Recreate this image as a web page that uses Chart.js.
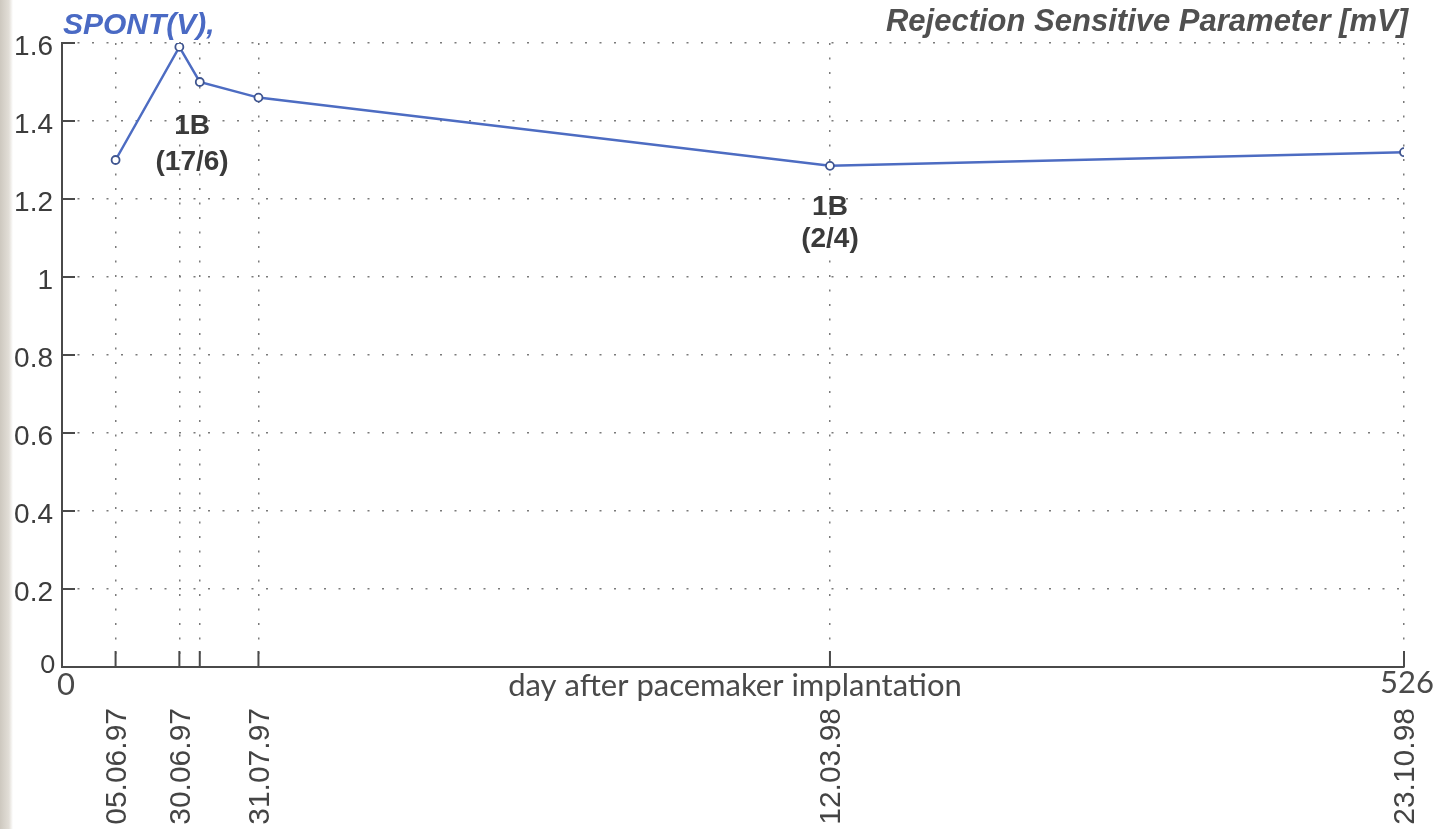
<!DOCTYPE html>
<html lang="en">
<head>
    <meta charset="UTF-8">
    <title>Rejection Sensitive Parameter</title>
    <script src="https://cdn.jsdelivr.net/npm/chart.js"></script>
    <style>
        html, body { margin: 0; padding: 0; }
        body {
            width: 1454px; height: 829px; overflow: hidden;
            background: linear-gradient(to right, #cdc8bf 0px, #e2ded7 9px, #ffffff 13px);
        }
        #wrap { position: relative; width: 1454px; height: 829px; }
    </style>
</head>
<body>
    <div id="wrap">
        <canvas id="myChart" width="1454" height="829"></canvas>
    </div>
<script>
// days after pacemaker implantation (15.05.97)
const days = [21, 46, 54, 77, 301, 526];
const spont = [1.30, 1.59, 1.50, 1.46, 1.285, 1.32];
const dateLabels = ['05.06.97', '30.06.97', '', '31.07.97', '12.03.98', '23.10.98'];
const yTicks = [0, 0.2, 0.4, 0.6, 0.8, 1, 1.2, 1.4, 1.6];
const notes = [
    { x: 51, y: 1.387, text: '1B' },
    { x: 51, y: 1.295, text: '(17/6)' },
    { x: 301, y: 1.18, text: '1B' },
    { x: 301, y: 1.097, text: '(2/4)' }
];

const dotted = [2, 12.5];
const gridColor = '#7a7a7a';
const axisColor = '#4a4a4a';

const textPlugin = {
    id: 'textPlugin',
    afterDraw(chart) {
        const ctx = chart.ctx;
        const xs = chart.scales.x, ys = chart.scales.y;
        const area = chart.chartArea;
        ctx.save();

        // inward tick marks
        ctx.strokeStyle = axisColor;
        ctx.lineWidth = 2;
        ctx.beginPath();
        yTicks.forEach(v => {
            const py = ys.getPixelForValue(v);
            ctx.moveTo(area.left, py);
            ctx.lineTo(area.left + 13, py);
        });
        days.forEach(d => {
            const px = xs.getPixelForValue(d);
            ctx.moveTo(px, area.bottom);
            ctx.lineTo(px, area.bottom - 16);
        });
        ctx.stroke();

        // y labels
        ctx.fillStyle = '#3c3c3c';
        ctx.textAlign = 'right';
        ctx.textBaseline = 'middle';
        ctx.font = '28px "Liberation Sans", Arial, sans-serif';
        yTicks.forEach(v => {
            if (v === 0) return;
            ctx.fillText(String(v), area.left - 9, ys.getPixelForValue(v) + 4);
        });
        ctx.font = '25px Lato, "DejaVu Sans", sans-serif';
        ctx.fillText('0', area.left - 7, ys.getPixelForValue(0) - 2);

        // x end labels and axis title
        ctx.font = '31px Lato, "DejaVu Sans", sans-serif';
        ctx.textAlign = 'center';
        ctx.fillStyle = '#4a4a4a';
        ctx.fillText('0', xs.getPixelForValue(0) + 4, area.bottom + 18);
        ctx.fillText('526', xs.getPixelForValue(526) + 3, area.bottom + 16);
        ctx.font = '31px Lato, "DejaVu Sans", sans-serif';
        ctx.fillText('day after pacemaker implantation', (area.left + area.right) / 2 + 2, area.bottom + 19);

        // rotated dates
        ctx.font = '30px "Liberation Sans", Arial, sans-serif';
        ctx.fillStyle = '#444444';
        dateLabels.forEach((lab, i) => {
            if (!lab) return;
            const px = xs.getPixelForValue(days[i]);
            ctx.save();
            ctx.translate(px + 2, area.bottom + 41);
            ctx.rotate(-Math.PI / 2);
            ctx.textAlign = 'right';
            ctx.textBaseline = 'middle';
            ctx.fillText(lab, 0, 0);
            ctx.restore();
        });

        // annotations
        ctx.font = 'bold 28px "Liberation Sans", Arial, sans-serif';
        ctx.fillStyle = '#3a3a3a';
        ctx.textAlign = 'center';
        ctx.textBaseline = 'middle';
        notes.forEach(n => {
            ctx.fillText(n.text, xs.getPixelForValue(n.x), ys.getPixelForValue(n.y));
        });

        // titles
        ctx.font = 'italic bold 30px "Liberation Sans", Arial, sans-serif';
        ctx.textBaseline = 'alphabetic';
        ctx.textAlign = 'left';
        ctx.fillStyle = '#4a6ac4';
        ctx.fillText('SPONT(V),', area.left + 1, 34);
        ctx.textAlign = 'right';
        ctx.fillStyle = '#505050';
        ctx.font = 'italic bold 31px "Liberation Sans", Arial, sans-serif';
        ctx.fillText('Rejection Sensitive Parameter [mV]', area.right + 4, 31);

        ctx.restore();
    }
};

const data = {
    datasets: [{
        label: 'SPONT(V)',
        data: days.map((d, i) => ({ x: d, y: spont[i] })),
        borderColor: '#4d6cc2',
        borderWidth: 2.5,
        backgroundColor: '#ffffff',
        pointBorderColor: '#3f5590',
        pointBorderWidth: 1.8,
        pointRadius: 4,
        showLine: true,
        tension: 0
    }]
};

const config = {
    type: 'scatter',
    data: data,
    options: {
        responsive: false,
        animation: false,
        layout: { padding: { left: 62, top: 43, right: 50, bottom: 162 } },
        plugins: { legend: { display: false }, tooltip: { enabled: false } },
        scales: {
            x: {
                type: 'linear',
                min: 0,
                max: 526,
                afterBuildTicks: axis => { axis.ticks = days.map(v => ({ value: v })); },
                ticks: { display: false },
                grid: { color: gridColor, lineWidth: 1.5, drawTicks: false },
                border: { display: true, color: axisColor, width: 2, dash: dotted }
            },
            y: {
                min: 0,
                max: 1.6,
                afterBuildTicks: axis => { axis.ticks = yTicks.map(v => ({ value: v })); },
                ticks: { display: false },
                grid: { color: gridColor, lineWidth: 1.5, drawTicks: false },
                border: { display: true, color: axisColor, width: 2, dash: dotted }
            }
        }
    },
    plugins: [textPlugin]
};

const myChart = new Chart(document.getElementById('myChart'), config);
</script>
</body>
</html>
